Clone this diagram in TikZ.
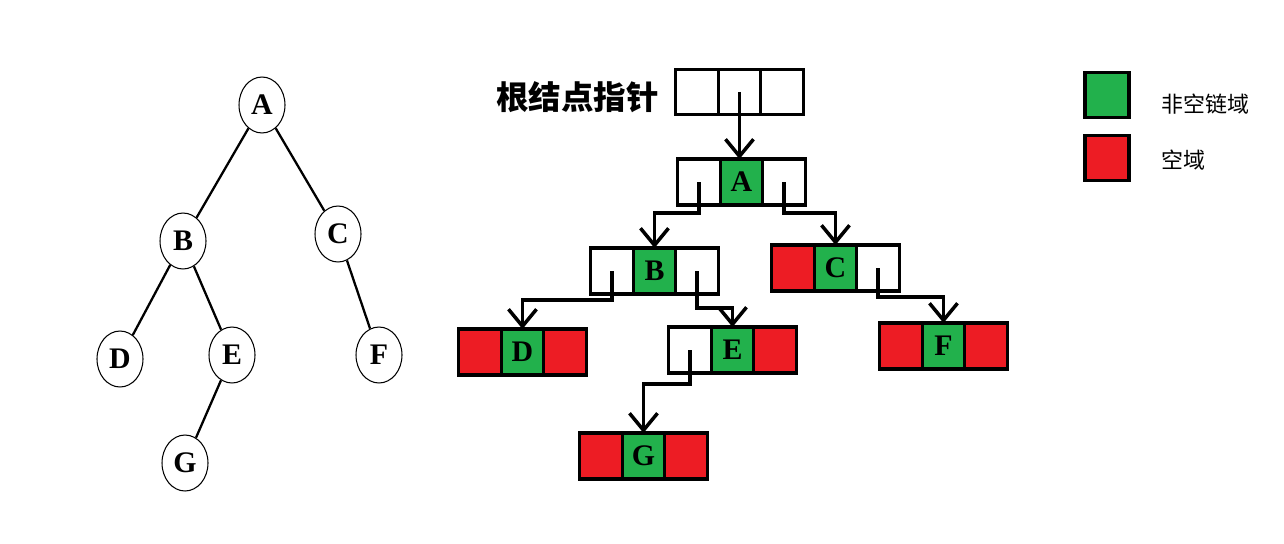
\documentclass[tikz,border=0pt]{standalone}
\usepackage{fontspec}
\usetikzlibrary{arrows.meta,positioning,shapes.geometric}
\newfontfamily\cjk{Noto Sans CJK SC}
\newfontfamily\lbl{Liberation Serif}
\definecolor{fieldgreen}{RGB}{34,177,76}
\definecolor{fieldred}{RGB}{237,28,36}

\begin{document}
\begin{tikzpicture}[x=0.02cm, y=-0.02cm,
  treenode/.style={ellipse, draw, line width=0.6pt, minimum width=0.92cm, minimum height=1.12cm, inner sep=0pt,
    font=\lbl\bfseries\fontsize{17}{17}\selectfont},
  branch/.style={line width=1.3pt},
  field/.style={draw, line width=1.8pt, minimum width=0.85cm, minimum height=0.92cm, inner sep=0pt, outer sep=0pt,
    font=\lbl\bfseries\fontsize{17}{17}\selectfont},
  datafield/.style={field, fill=fieldgreen},
  nilfield/.style={field, fill=fieldred},
  ptr/.style={line width=2pt, -{Straight Barb[length=3.4mm, width=5.6mm]}}]
  \useasboundingbox (0,0) rectangle (1284,544);

  \node[treenode] (tA) at (262,105) {A};
  \node[treenode] (tB) at (183,241) {B};
  \node[treenode] (tC) at (338,234) {C};
  \node[treenode] (tD) at (120,359) {D};
  \node[treenode] (tE) at (232,355) {E};
  \node[treenode] (tF) at (379,355) {F};
  \node[treenode] (tG) at (185,463) {G};
  \draw[branch] (tA) -- (tB);
  \draw[branch] (tA) -- (tC);
  \draw[branch] (tB) -- (tD);
  \draw[branch] (tB) -- (tE);
  \draw[branch] (tC) -- (tF);
  \draw[branch] (tE) -- (tG);

  \node[anchor=east, font=\cjk\bfseries\fontsize{18.5}{18.5}\selectfont] (title) at (665,97) {根结点指针};
  \node[field, minimum height=0.9cm] (root-l) at (697,92) {};
  \node[field, minimum height=0.9cm, right=0pt of root-l] (root-m) {};
  \node[field, minimum height=0.9cm, right=0pt of root-m] (root-r) {};

  \node[field] (nA-l) at (699,182) {};
  \node[datafield, right=0pt of nA-l] (nA-d) {A};
  \node[field, right=0pt of nA-d] (nA-r) {};

  \node[field] (nB-l) at (612,271) {};
  \node[datafield, right=0pt of nB-l] (nB-d) {B};
  \node[field, right=0pt of nB-d] (nB-r) {};

  \node[nilfield] (nC-l) at (793,268) {};
  \node[datafield, right=0pt of nC-l] (nC-d) {C};
  \node[field, right=0pt of nC-d] (nC-r) {};

  \node[nilfield] (nD-l) at (480,352) {};
  \node[datafield, right=0pt of nD-l] (nD-d) {D};
  \node[nilfield, right=0pt of nD-d] (nD-r) {};

  \node[field] (nE-l) at (690,350) {};
  \node[datafield, right=0pt of nE-l] (nE-d) {E};
  \node[nilfield, right=0pt of nE-d] (nE-r) {};

  \node[nilfield] (nF-l) at (901,346) {};
  \node[datafield, right=0pt of nF-l] (nF-d) {F};
  \node[nilfield, right=0pt of nF-d] (nF-r) {};

  \node[nilfield] (nG-l) at (601,456) {};
  \node[datafield, right=0pt of nG-l] (nG-d) {G};
  \node[nilfield, right=0pt of nG-d] (nG-r) {};

  \draw[ptr] (root-m.center) -- (root-m.center |- nA-d.north);
  \draw[ptr] (nA-l.center) -- ([yshift=-0.16cm]nA-l.south) -| (nB-d.north);
  \draw[ptr] (nA-r.center) -- ([yshift=-0.16cm]nA-r.south) -| (nC-d.north);
  \draw[ptr] (nB-l.center) -- ([yshift=-0.12cm]nB-l.south) -| (nD-d.north);
  \draw[ptr] (nB-r.center) -- ([yshift=-0.28cm]nB-r.south) -| (nE-d.north);
  \draw[ptr] (nC-r.center) -- ([yshift=-0.12cm]nC-r.south) -| (nF-d.north);
  \draw[ptr] (nE-l.center) -- ([yshift=-0.22cm]nE-l.south) -| (nG-d.north);

  \node[datafield, minimum width=0.88cm, minimum height=0.9cm] (keyG) at (1107,95) {};
  \node[nilfield, minimum width=0.88cm, minimum height=0.9cm] (keyR) at (1107,158) {};
  \node[anchor=west, font=\cjk\fontsize{12.5}{12.5}\selectfont] (keyG-txt) at (1155,104) {非空链域};
  \node[anchor=west, font=\cjk\fontsize{12.5}{12.5}\selectfont] (keyR-txt) at (1155,160) {空域};
\end{tikzpicture}
\end{document}
